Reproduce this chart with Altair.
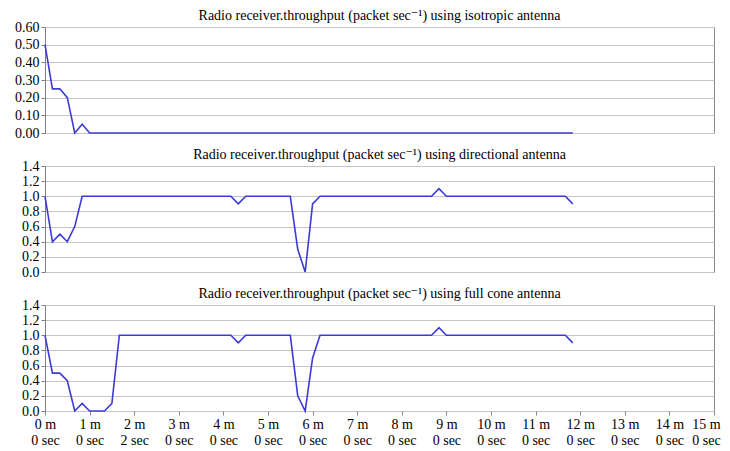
import altair as alt
import pandas as pd

# sampling step of the series, seconds
step_sec = 10

isotropic = [0.5, 0.25, 0.25, 0.2, 0.0, 0.05] + [0.0] * 66
directional = ([1.0, 0.4, 0.5, 0.4, 0.6] + [1.0] * 21 + [0.9] + [1.0] * 7 +
               [0.3, 0.0, 0.9] + [1.0] * 16 + [1.1] + [1.0] * 17 + [0.9])
full_cone = ([1.0, 0.5, 0.5, 0.4, 0.0, 0.1, 0.0, 0.0, 0.0, 0.1] + [1.0] * 16 + [0.9] +
             [1.0] * 7 + [0.2, 0.0, 0.7] + [1.0] * 16 + [1.1] + [1.0] * 17 + [0.9])

titles = [
    "Radio receiver.throughput  (packet sec\u207b\u00b9) using isotropic  antenna",
    "Radio receiver.throughput  (packet sec\u207b\u00b9) using directional  antenna",
    "Radio receiver.throughput  (packet sec\u207b\u00b9) using full  cone  antenna",
]

x_tick_minutes = list(range(0, 16))
x_tick_seconds = [0, 0, 2, 0, 0, 0, 0, 0, 0, 0, 0, 0, 0, 0, 0, 0]

y_top_ticks = [0.0, 0.1, 0.2, 0.3, 0.4, 0.5, 0.6]
y_other_ticks = [0.0, 0.2, 0.4, 0.6, 0.8, 1.0, 1.2, 1.4]

FONT = "'Liberation Serif', 'Times New Roman', 'DejaVu Serif', serif"
LINE_COLOR = "#3c3cd2"
W, H = 669, 106


def make_df(vals):
    return pd.DataFrame({"minutes": [i * step_sec / 60 for i in range(len(vals))],
                         "value": vals})


label_expr = ("[datum.value + ' m', " + str(x_tick_seconds) +
              "[datum.value] + ' sec']")


def panel(vals, title, ticks, fmt, show_x):
    if show_x:
        xaxis = alt.Axis(values=x_tick_minutes, labelExpr=label_expr, grid=False,
                         title=None, domain=False, ticks=True, tickSize=4,
                         tickColor="#888888", labelFont=FONT, labelFontSize=14,
                         labelColor="#000000", labelPadding=2, labelLineHeight=16,
                         labelBaseline="top", labelFlush=False,
                         labelOffset={"condition": {"test": "datum.value == 15",
                                                    "value": -8},
                                      "value": 0})
    else:
        xaxis = None
    return alt.Chart(make_df(vals)).mark_line(color=LINE_COLOR, strokeWidth=1.6).encode(
        x=alt.X("minutes:Q", scale=alt.Scale(domain=[0, 15], nice=False), axis=xaxis),
        y=alt.Y("value:Q",
                scale=alt.Scale(domain=[ticks[0], ticks[-1]], nice=False),
                axis=alt.Axis(values=ticks, format=fmt, title=None, grid=True,
                              gridColor="#c4c4c4", domainColor="#808080",
                              tickColor="#808080", tickSize=4,
                              labelFont=FONT, labelFontSize=14, labelColor="#000000",
                              labelPadding=2)),
    ).properties(
        width=W, height=H,
        title=alt.TitleParams(title, font=FONT, fontSize=14, fontWeight="normal",
                              color="#000000", anchor="middle", offset=-3),
    )


chart = alt.vconcat(
    panel(isotropic, titles[0], y_top_ticks, ".2f", False),
    panel(directional, titles[1], y_other_ticks, ".1f", False),
    panel(full_cone, titles[2], y_other_ticks, ".1f", True),
    spacing=6,
).configure_view(
    stroke="#8a8a8a", strokeWidth=1
).properties(
    padding={"left": 6, "top": 0, "right": 0, "bottom": 0}
)

chart.save("out.html", embed_options={"renderer": "svg", "actions": False})
